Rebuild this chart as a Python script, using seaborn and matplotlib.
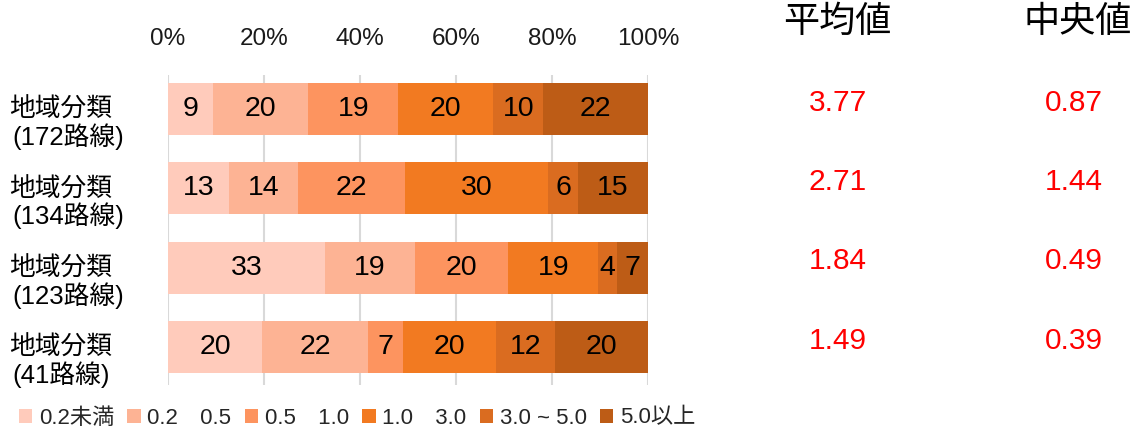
import matplotlib
matplotlib.use("Agg")
import matplotlib.pyplot as plt
import matplotlib.transforms as mtransforms
from matplotlib.patches import Patch
import seaborn as sns
import pandas as pd
import numpy as np

# ---------------- data ----------------
categories = ["172路線", "134路線", "123路線", "41路線"]
row_title = "地域分類"
series_names = ["0.2未満", "0.2\u30000.5", "0.5\u30001.0", "1.0\u30003.0", "3.0 ~ 5.0", "5.0以上"]
# segment shares (%) per category, in series order
share_172 = [9.4, 19.8, 18.8, 19.8, 10.4, 21.8]
share_134 = [12.7, 14.4, 22.3, 29.8, 6.2, 14.6]
share_123 = [32.7, 18.8, 19.4, 18.7, 4.0, 6.4]
share_41 = [19.6, 22.1, 7.3, 19.4, 12.3, 19.3]
# printed labels
label_172 = [9, 20, 19, 20, 10, 22]
label_134 = [13, 14, 22, 30, 6, 15]
label_123 = [33, 19, 20, 19, 4, 7]
label_41 = [20, 22, 7, 20, 12, 20]
mean_vals = ["3.77", "2.71", "1.84", "1.49"]
median_vals = ["0.87", "1.44", "0.49", "0.39"]
x_ticks = [0, 20, 40, 60, 80, 100]
x_ticklabels = ["0%", "20%", "40%", "60%", "80%", "100%"]
colors = ["#FFCBBB", "#FDB394", "#FD945F", "#F27A21", "#DA6C20", "#BD5C16"]

shares = [share_172, share_134, share_123, share_41]
labels = [label_172, label_134, label_123, label_41]

# ---------------- style ----------------
sns.set_theme(style="white")
plt.rcParams["font.family"] = ["Liberation Sans", "Noto Sans CJK JP", "DejaVu Sans"]

fig = plt.figure(figsize=(11.44, 4.34), dpi=100)
ax = fig.add_axes([168 / 1144, 49 / 434, 480 / 1144, 310 / 434])

# long table of cumulative ends
rows = []
for cat, sh in zip(categories, shares):
    cum = np.cumsum(sh)
    for j, name in enumerate(series_names):
        rows.append({"cat": cat, "series": name, "value": sh[j], "cum": cum[j]})
df = pd.DataFrame(rows)

# draw from the outermost cumulative to the innermost so segments stack
for j in reversed(range(len(series_names))):
    sub = df[df["series"] == series_names[j]]
    sns.barplot(data=sub, x="cum", y="cat", order=categories, color=colors[j],
                orient="h", width=0.654, ax=ax, saturation=1, edgecolor="none",
                linewidth=0)

# segment labels
for i, (sh, lb) in enumerate(zip(shares, labels)):
    start = 0.0
    for v, t in zip(sh, lb):
        ax.text(start + v / 2, i, str(t), ha="center", va="center",
                fontsize=20.5, color="black")
        start += v

ax.set_xlim(0, 100)
ax.set_ylim(3.48, -0.43)
ax.set_xticks(x_ticks)
ax.set_xticklabels(x_ticklabels)
ax.xaxis.tick_top()
ax.tick_params(axis="x", length=0, pad=18, labelsize=17.5, labelcolor="#1a1a1a")
ax.set_yticks([])
ax.set_xlabel("")
ax.set_ylabel("")
ax.grid(axis="x", color="#D9D9D9", linewidth=1.5)
ax.grid(axis="y", visible=False)
ax.set_axisbelow(True)
for s in ax.spines.values():
    s.set_visible(False)

# category labels on the left
trans = mtransforms.blended_transform_factory(fig.transFigure, ax.transData)
for i, cat in enumerate(categories):
    ax.text(9 / 1144, i + 0.01, row_title, transform=trans, ha="left", va="center",
            fontsize=18.5, color="black")
    ax.text(12 / 1144, i + 0.35, f"({cat})", transform=trans, ha="left", va="center",
            fontsize=18.5, color="black")

# mean / median columns
fig.text(837 / 1144, 1 - 22.5 / 434, "平均値", ha="center", va="center", fontsize=26, color="black")
fig.text(1078 / 1144, 1 - 22.5 / 434, "中央値", ha="center", va="center", fontsize=26, color="black")
for i in range(len(categories)):
    ax.text(838 / 1144, i - 0.08, mean_vals[i], transform=trans, ha="center", va="center",
            fontsize=21.5, color="#FF0000")
    ax.text(1074 / 1144, i - 0.08, median_vals[i], transform=trans, ha="center", va="center",
            fontsize=21.5, color="#FF0000")

# legend
handles = [Patch(facecolor=c, edgecolor="none") for c in colors]
fig.legend(handles, series_names, loc="center", bbox_to_anchor=(357 / 1144, 16 / 434),
           ncol=6, frameon=False, fontsize=16, handlelength=0.6, handleheight=0.6,
           handletextpad=0.3, columnspacing=0.6, borderaxespad=0)

fig.savefig("out.png", dpi=100)
